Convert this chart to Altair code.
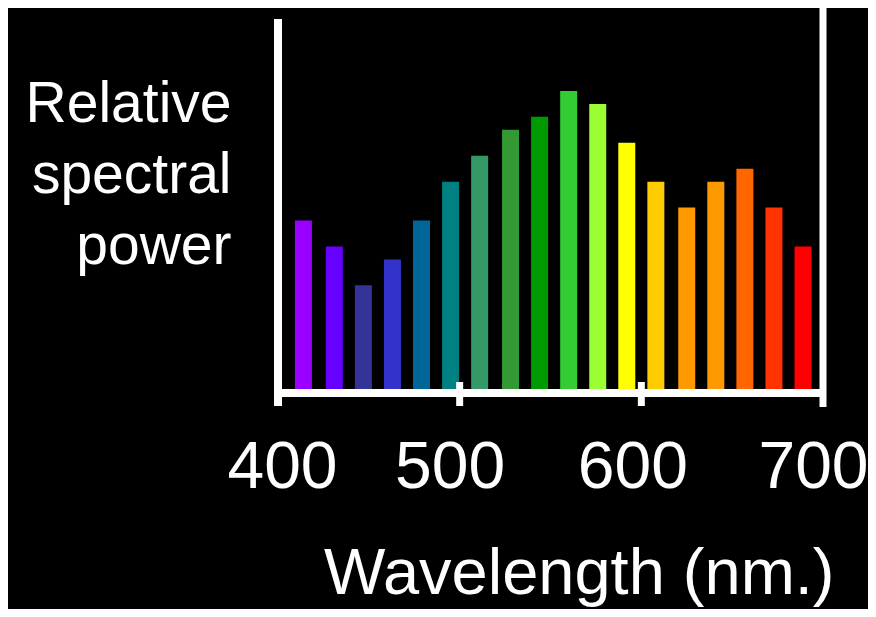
import altair as alt
import pandas as pd

# ---- data ----
wavelengths = [414, 431, 447, 463, 479, 495, 511, 528, 544, 560, 576, 592, 608, 625, 641, 657, 673, 689]
power = [13, 11, 8, 10, 13, 16, 18, 20, 21, 23, 22, 19, 16, 14, 16, 17, 14, 11]
bar_colors = ["#9900FF", "#6600FF", "#333399", "#3333CC", "#006699", "#008080",
              "#339966", "#339933", "#009900", "#33CC33", "#99FF33", "#FFFF00",
              "#FFCC00", "#FF9900", "#FF9900", "#FF6600", "#FF3300", "#FF0000"]
tick_labels = [400, 500, 600, 700]
inner_ticks = [500, 600]
frame_x = [400, 700]
frame_top = [28.55, 29.57]
frame_bottom = [-1.31, -1.39]
baseline_y = [-0.31]
tick_top = 0.54
tick_bottom = -1.31

bars_df = pd.DataFrame({"wavelength": wavelengths, "power": power, "color": bar_colors})
frame_df = pd.DataFrame({"wavelength": frame_x, "power": frame_top, "bottom": frame_bottom, "w": [8, 7]})
axis_df = pd.DataFrame({"wavelength": [frame_x[0]], "x2": [frame_x[1]], "power": baseline_y})
ticks_df = pd.DataFrame({"wavelength": inner_ticks, "power": [tick_top] * 2, "bottom": [tick_bottom] * 2})

FONT = "Liberation Sans"
x_scale = alt.Scale(domain=[400, 700], nice=False, zero=False, padding=0)
y_scale = alt.Scale(domain=[0, 29.4], nice=False, zero=False, padding=0)

label_offset = {
    "condition": [
        {"test": "datum.value == 400", "value": 4},
        {"test": "datum.value == 500", "value": -10},
        {"test": "datum.value == 600", "value": -9},
    ],
    "value": -10,
}

x_axis = alt.Axis(values=tick_labels, grid=False, domain=False, ticks=False,
                  tickSize=0, labelFlush=False, labelOverlap=False,
                  labelFont=FONT, labelFontSize=66, labelColor="white",
                  labelPadding=46, labelOffset=label_offset,
                  title="Wavelength (nm.)", titleFont=FONT,
                  titleFontSize=65, titleFontWeight="normal", titleColor="white",
                  titleAlign="right", titleAnchor="end", titleBaseline="alphabetic",
                  titleX=556, titleY=204)
y_axis = alt.Axis(grid=False, domain=False, ticks=False, labels=False,
                  title=["Relative", "spectral", "power"],
                  titleFont=FONT, titleFontSize=57, titleFontWeight="normal",
                  titleColor="white", titleAngle=0, titleAlign="right",
                  titleBaseline="alphabetic", titleLineHeight=71,
                  titleX=-47, titleY=113)

X = lambda: alt.X("wavelength:Q", scale=x_scale, axis=x_axis)
Y = lambda: alt.Y("power:Q", scale=y_scale, axis=y_axis)

bars = alt.Chart(bars_df).mark_bar(size=17).encode(
    x=X(), y=Y(),
    color=alt.Color("color:N", scale=None),
)

frame = alt.Chart(frame_df).mark_rule(color="white").encode(
    x=X(), y=Y(), y2="bottom:Q",
    strokeWidth=alt.StrokeWidth("w:Q", scale=None),
)

axis_line = alt.Chart(axis_df).mark_rule(color="white", strokeWidth=8).encode(
    x=X(), x2="x2:Q", y=Y(),
)

ticks = alt.Chart(ticks_df).mark_rule(color="white", strokeWidth=7).encode(
    x=X(), y=Y(), y2="bottom:Q",
)

chart = alt.layer(bars, axis_line, frame, ticks).properties(
    width=545, height=381,
    background="black",
    autosize=alt.AutoSizeParams(type="none"),
    padding={"left": 270, "top": 0, "right": 45, "bottom": 220},
).configure_view(stroke=None)

chart.save("out.html", embed_options={"renderer": "svg", "actions": False})
